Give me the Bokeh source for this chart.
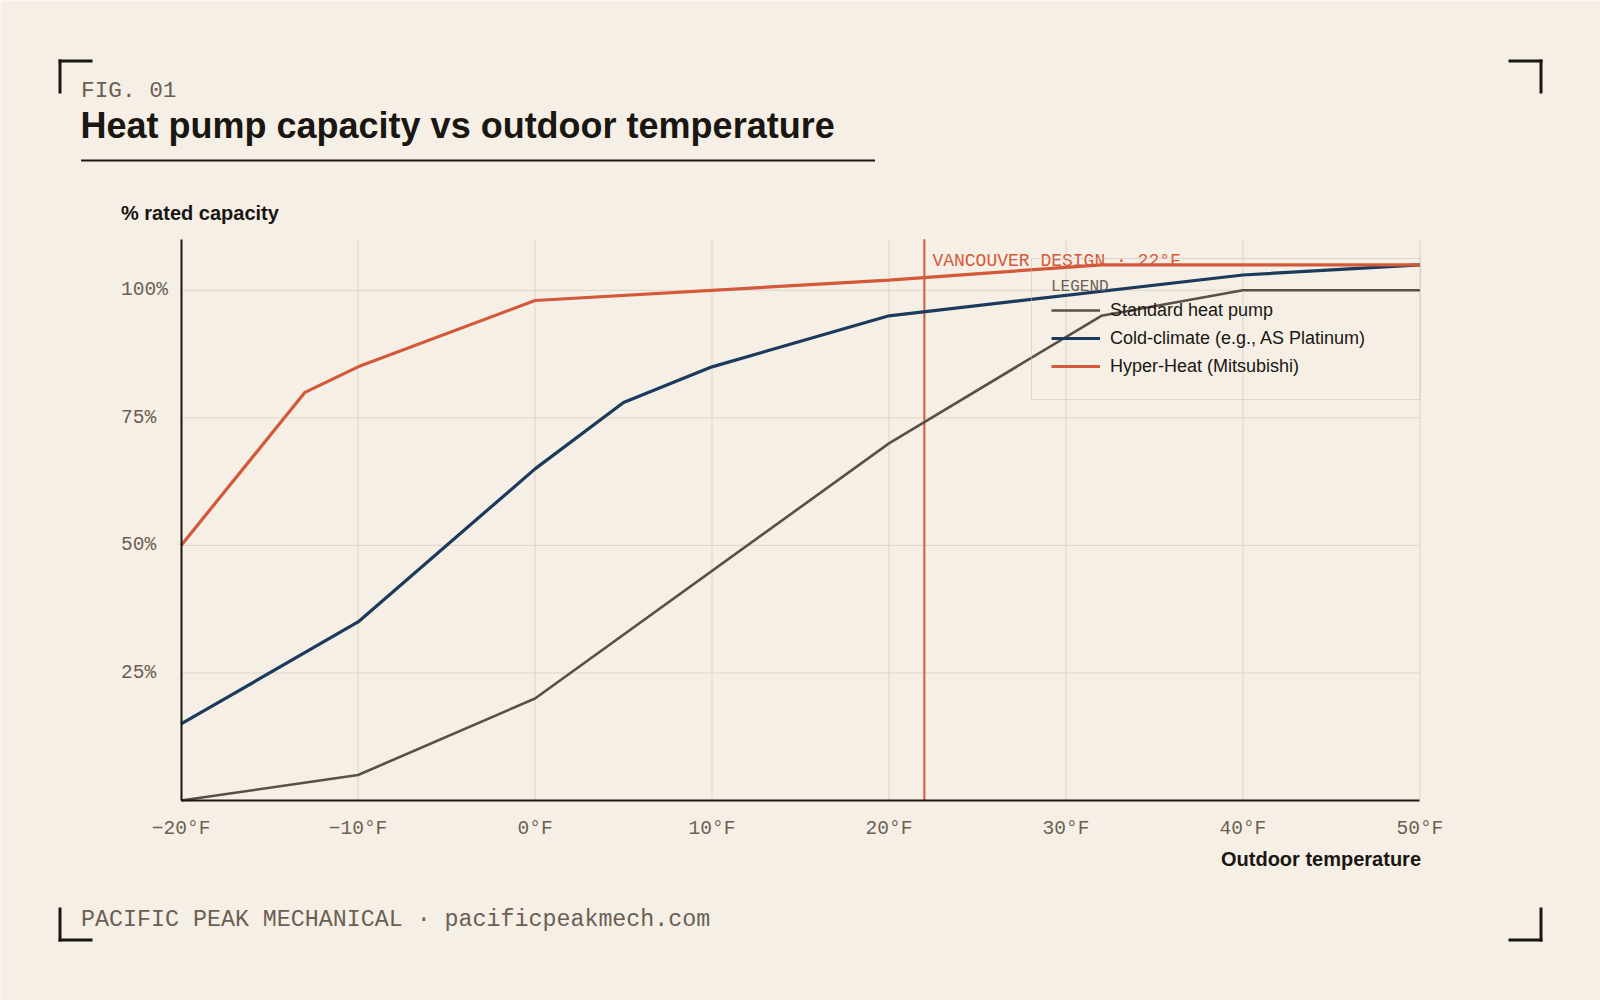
from bokeh.plotting import figure
from bokeh.models import (ColumnDataSource, Label, LabelSet, BoxAnnotation,
                          FixedTicker, Range1d)
from bokeh.core.properties import value
from bokeh.embed import file_html
from bokeh.resources import INLINE

# ---------------- data ----------------
temps_standard = [-20, -10, 0, 20, 32, 40, 50]
cap_standard = [0, 5, 20, 70, 95, 100, 100]

temps_cold = [-20, -10, 0, 5, 10, 20, 40, 50]
cap_cold = [15, 35, 65, 78, 85, 95, 103, 105]

temps_hyper = [-20, -13, -10, 0, 20, 32, 50]
cap_hyper = [50, 80, 85, 98, 102, 105, 105]

series_names = ["Standard heat pump", "Cold-climate (e.g., AS Platinum)", "Hyper-Heat (Mitsubishi)"]
design_temp = 22

x_min, x_max = -20, 50
y_min, y_max = 0, 110
x_ticks = [-20, -10, 0, 10, 20, 30, 40, 50]
x_tick_labels = ["\u221220\u00b0F", "\u221210\u00b0F", "0\u00b0F", "10\u00b0F", "20\u00b0F", "30\u00b0F", "40\u00b0F", "50\u00b0F"]
y_ticks = [25, 50, 75, 100]
y_tick_labels = ["25%", "50%", "75%", "100%"]

fig_label = "FIG. 01"
title_text = "Heat pump capacity vs outdoor temperature"
y_title = "% rated capacity"
x_title = "Outdoor temperature"
footer_text = "PACIFIC PEAK MECHANICAL \u00b7 pacificpeakmech.com"

# ---------------- style / layout ----------------
BG = "#f5efe6"
DARK = "#1a1612"
GREY = "#6b5f55"
GRID = "#ddd5c8"
C_STD = "#5a4f46"
C_COLD = "#1b3a5c"
C_HYPER = "#d4593a"
LEG_BORDER = "#c9c0b3"
MONO = "Liberation Mono"
SANS = "Liberation Sans"

W, H = 1600, 1000
PLOT_LEFT, PLOT_RIGHT = 180.6, 1419.4      # canvas px of x_min / x_max
PLOT_BOTTOM, PLOT_TOP = 800.0, 238.8       # canvas px of y_min / y_max

kx = (x_max - x_min) / (PLOT_RIGHT - PLOT_LEFT)
ky = (y_max - y_min) / (PLOT_BOTTOM - PLOT_TOP)
x_range = Range1d(x_min - PLOT_LEFT * kx, x_max + (W - PLOT_RIGHT) * kx)
y_range = Range1d(y_min - (H - PLOT_BOTTOM) * ky, y_max + PLOT_TOP * ky)


def sx(X):
    return X


def sy(Y):
    return H - Y


p = figure(width=W, height=H, x_range=x_range, y_range=y_range,
           output_backend="svg", toolbar_location=None, min_border=0,
           background_fill_color=BG, border_fill_color=BG)
p.title.visible = False
p.outline_line_color = None
p.xgrid.grid_line_color = None
p.ygrid.grid_line_color = None

# axes (library axes, pinned at the data origin)
p.xaxis.fixed_location = y_min
p.xaxis.bounds = (x_min, x_max)
p.xaxis.ticker = FixedTicker(ticks=x_ticks)
p.xaxis.major_label_overrides = {t: l for t, l in zip(x_ticks, x_tick_labels)}
p.xaxis.axis_line_color = DARK
p.xaxis.axis_line_width = 2
p.xaxis.major_tick_line_color = None
p.xaxis.minor_tick_line_color = None
p.xaxis.major_label_text_font = MONO
p.xaxis.major_label_text_font_size = "19.5px"
p.xaxis.major_label_text_color = GREY
p.xaxis.major_label_standoff = 11

p.yaxis.fixed_location = x_min
p.yaxis.bounds = (y_min, y_max)
p.yaxis.ticker = FixedTicker(ticks=[])
p.yaxis.axis_line_color = DARK
p.yaxis.axis_line_width = 2
p.yaxis.major_tick_line_color = None
p.yaxis.minor_tick_line_color = None

# grid lines bounded to the plotting area
p.segment(x0=x_ticks[1:], y0=[y_min] * (len(x_ticks) - 1),
          x1=x_ticks[1:], y1=[y_max] * (len(x_ticks) - 1),
          line_color=GRID, line_width=1)
p.segment(x0=[x_min] * len(y_ticks), y0=y_ticks,
          x1=[x_max] * len(y_ticks), y1=y_ticks,
          line_color=GRID, line_width=1)

# design temperature line
p.segment(x0=[design_temp], y0=[y_min], x1=[design_temp], y1=[y_max],
          line_color=C_HYPER, line_width=2)

# series
p.line(temps_standard, cap_standard, line_color=C_STD, line_width=2.6,
       legend_label=series_names[0])
p.line(temps_cold, cap_cold, line_color=C_COLD, line_width=3.2,
       legend_label=series_names[1])
p.line(temps_hyper, cap_hyper, line_color=C_HYPER, line_width=3.2,
       legend_label=series_names[2])

# y tick labels (left aligned)
ysrc = ColumnDataSource(dict(x=[x_min] * len(y_ticks), y=y_ticks, text=y_tick_labels))
p.add_layout(LabelSet(x="x", y="y", text="text", source=ysrc, x_offset=-60,
                      text_align="left", text_baseline="middle",
                      text_font=value(MONO), text_font_size=value("19.5px"),
                      text_color=GREY))

# design label
p.add_layout(Label(x=design_temp, y=y_max, x_offset=8, y_offset=-22,
                   text=f"VANCOUVER DESIGN \u00b7 {design_temp}\u00b0F",
                   text_font=MONO, text_font_size="18px", text_color=C_HYPER,
                   text_baseline="middle"))

# legend
lg = p.legend[0]
lg.location = (1031, 600)
lg.title = "LEGEND"
lg.title_text_font = MONO
lg.title_text_font_size = "16px"
lg.title_text_color = GREY
lg.title_text_font_style = "normal"
lg.title_standoff = 0
lg.label_text_font = SANS
lg.label_text_font_size = "18px"
lg.label_text_color = DARK
lg.border_line_color = LEG_BORDER
lg.border_line_width = 1
lg.background_fill_alpha = 0
lg.glyph_width = 49
lg.glyph_height = 28
lg.label_height = 28
lg.label_width = 291
lg.label_standoff = 10
lg.padding = 19
lg.spacing = 0
lg.margin = 0


# header / footer texts (positioned by their vertical centre)
def label(X, Y, text, font, size, color, bold=False, align="left"):
    p.add_layout(Label(x=sx(X), y=sy(Y), x_units="screen", y_units="screen",
                       text=text, text_font=font, text_font_size=size,
                       text_font_style="bold" if bold else "normal",
                       text_color=color, text_align=align,
                       text_baseline="middle"))


label(80.6, 90.5, fig_label, MONO, "22.7px", GREY)
label(80, 124.5, title_text, SANS, "36px", DARK, bold=True)
label(120.5, 212.6, y_title, SANS, "20px", DARK, bold=True)
label(1420.5, 858.3, x_title, SANS, "20px", DARK, bold=True, align="right")
label(80.6, 919.4, footer_text, MONO, "23.3px", GREY)


def box(x0, x1, y0, y1, color=DARK):
    p.add_layout(BoxAnnotation(left=sx(x0), right=sx(x1), top=sy(y0), bottom=sy(y1),
                               left_units="screen", right_units="screen",
                               top_units="screen", bottom_units="screen",
                               fill_color=color, fill_alpha=1, line_color=None))


# title underline
box(80.6, 874.5, 159, 161)

# corner marks
L, R, T, B, A, TH = 58, 1542, 59, 941, 34, 3
box(L, L + A, T, T + TH); box(L, L + TH, T, T + A)
box(R - A, R, T, T + TH); box(R - TH, R, T, T + A)
box(L, L + A, B - TH, B); box(L, L + TH, B - A, B)
box(R - A, R, B - TH, B); box(R - TH, R, B - A, B)

open("out.html", "w").write(file_html(p, INLINE))
